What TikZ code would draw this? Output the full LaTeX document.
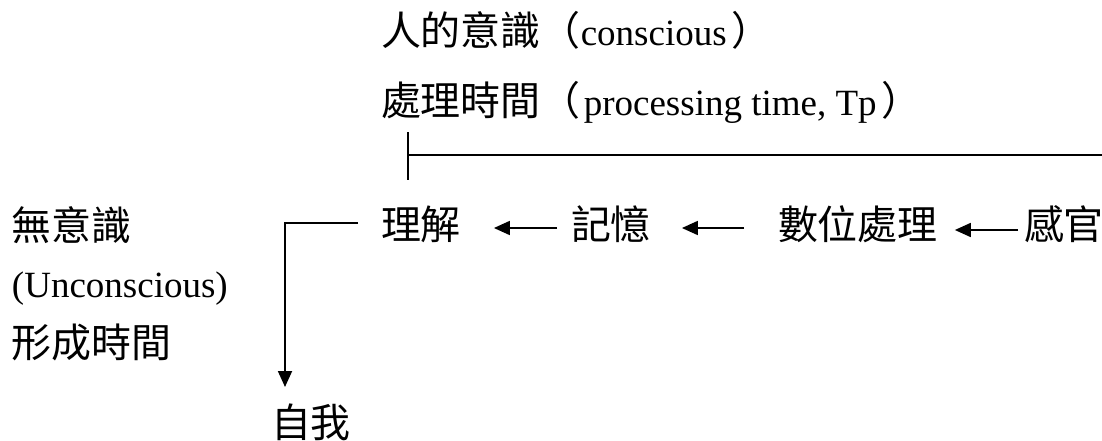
\documentclass[tikz,border=0pt]{standalone}
\usepackage{fontspec}
\setmainfont{Liberation Serif}
\newfontfamily\cjk{Noto Sans CJK TC}[Scale=1.08]
\usetikzlibrary{arrows.meta}
\tikzset{
  txt/.style={inner sep=0pt, outer sep=0pt, anchor=base west, font=\fontsize{37}{44}\selectfont},
  ln/.style={line width=1.8pt, black},
  arr/.style={ln, -{Triangle[length=16pt,width=14pt]}}
}
\begin{document}
\begin{tikzpicture}[x=1pt,y=-1pt]
\useasboundingbox[fill=white] (0,0) rectangle (1102,441);
% top labels
\node[txt] (consc) at (381,46) {{\cjk 人的意識（}conscious\hspace{5pt}{\cjk ）}};
\node[txt] (ptime) at (381,116) {{\cjk 處理時間（}\hspace{3pt}processing time, Tp\hspace{5pt}{\cjk ）}};
% bracket
\coordinate (brtop) at (408,132);
\coordinate (brbot) at (408,180);
\coordinate (brmid) at (408,155);
\coordinate (brend) at (1102,155);
\draw[ln] (brtop) -- (brbot);
\draw[ln] (brmid) -- (brend);
% main row
\node[txt] (lijie) at (381,239) {\cjk 理解};
\node[txt] (jiyi) at (571,239) {\cjk 記憶};
\node[txt] (shuwei) at (778,239) {\cjk 數位處理};
\node[txt] (ganguan) at (1024,239) {\cjk 感官};
\draw[arr] ([xshift=-14pt,yshift=11pt]jiyi.base west) -- ([xshift=495pt-462pt,yshift=11pt]lijie.base east);
\draw[arr] ([xshift=-34pt,yshift=11pt]shuwei.base west) -- ([xshift=682pt-651pt,yshift=11pt]jiyi.base east);
\draw[arr] ([xshift=-6pt,yshift=9pt]ganguan.base west) -- ([xshift=955pt-938pt,yshift=9pt]shuwei.base east);
% left labels
\node[txt] (wuyi) at (12,240) {\cjk 無意識};
\node[txt] (uncon) at (12,297) {(Unconscious)};
\node[txt] (xing) at (12,357) {\cjk 形成時間};
% self
\node[txt] (ziwo) at (271,437) {\cjk 自我};
\draw[arr] ([xshift=-23pt,yshift=16pt]lijie.base west) -| ([xshift=14pt,yshift=50pt]ziwo.base west);
\end{tikzpicture}
\end{document}
